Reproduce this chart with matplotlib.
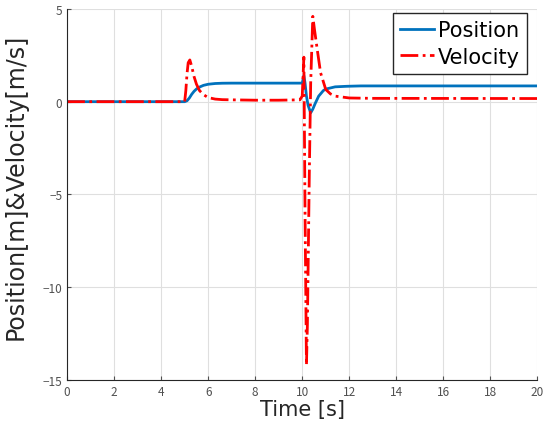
import matplotlib.pyplot as plt

plt.rcParams['font.family'] = ['DejaVu Sans']

# Position samples
t_pos = [0, 5.0, 5.1, 5.2, 5.3, 5.4, 5.5, 5.6, 5.8, 6.0, 6.3, 6.6, 7.0, 8.0, 9.0,
         10.0, 10.07, 10.12, 10.18, 10.25, 10.36, 10.45, 10.55, 10.7, 10.9, 11.0,
         11.4, 11.9, 12.5, 14.0, 20.0]
position = [0, 0, 0.05, 0.2, 0.4, 0.56, 0.68, 0.77, 0.88, 0.94, 0.98, 0.995, 1.0, 1.0, 1.0,
            1.0, 1.4, 1.0, 0.3, -0.2, -0.6, -0.4, -0.1, 0.3, 0.6, 0.68,
            0.8, 0.83, 0.85, 0.85, 0.85]

# Velocity samples
t_vel = [0, 5.0, 5.05, 5.1, 5.15, 5.22, 5.3, 5.4, 5.5, 5.63, 5.8, 6.0, 6.3, 6.6, 7.0,
         8.0, 9.0, 9.9, 10.0, 10.07, 10.12, 10.18, 10.22, 10.3, 10.36, 10.45, 10.52,
         10.64, 10.78, 11.0, 11.2, 11.4, 12.0, 13.0, 20.0]
velocity = [0, 0, 0.6, 1.5, 2.1, 2.25, 1.9, 1.35, 0.95, 0.6, 0.38, 0.22, 0.14, 0.11, 0.1,
            0.08, 0.08, 0.1, 0.3, 2.4, -6.0, -14.2, -12.0, -4.0, 1.0, 4.6, 3.9,
            2.8, 1.56, 0.66, 0.42, 0.3, 0.2, 0.18, 0.17]

fig = plt.figure(figsize=(5.5, 4.31), dpi=100)
ax = fig.add_axes([0.122, 0.116, 0.855, 0.861])

ax.plot(t_pos, position, color='#0072BD', linewidth=2, label='Position')
ax.plot(t_vel, velocity, color='#ff0000', linewidth=2, linestyle='-.', label='Velocity')

ax.set_xlim(0, 20)
ax.set_ylim(-15, 5)
ax.set_xticks(range(0, 21, 2))
ax.set_yticks([-15, -10, -5, 0, 5])
ax.grid(True, color='#dfdfdf', linewidth=0.8)
ax.set_axisbelow(True)
for s in ['top', 'right']:
    ax.spines[s].set_visible(False)
for s in ['left', 'bottom']:
    ax.spines[s].set_color('#262626')
ax.tick_params(direction='in', length=3, labelsize=8.5, colors='#505050')
for lbl in ax.get_xticklabels() + ax.get_yticklabels():
    lbl.set_family(['Noto Sans CJK JP', 'DejaVu Sans'])

ax.set_xlabel('Time [s]', fontsize=15, color='#262626', labelpad=1)
ax.set_ylabel('Position[m]&Velocity[m/s]', fontsize=17, color='#262626')
ax.yaxis.set_label_coords(-0.085, 0.523)

leg = ax.legend(loc='upper right', bbox_to_anchor=(527 / 550, 1 - 14 / 431),
                bbox_transform=fig.transFigure, fontsize=15, fancybox=False,
                framealpha=1, edgecolor='#262626', borderaxespad=0,
                handlelength=1.6, handletextpad=0.2, borderpad=0.35,
                labelspacing=0.3)
leg.get_frame().set_linewidth(1)

fig.savefig('out.png', dpi=100)
